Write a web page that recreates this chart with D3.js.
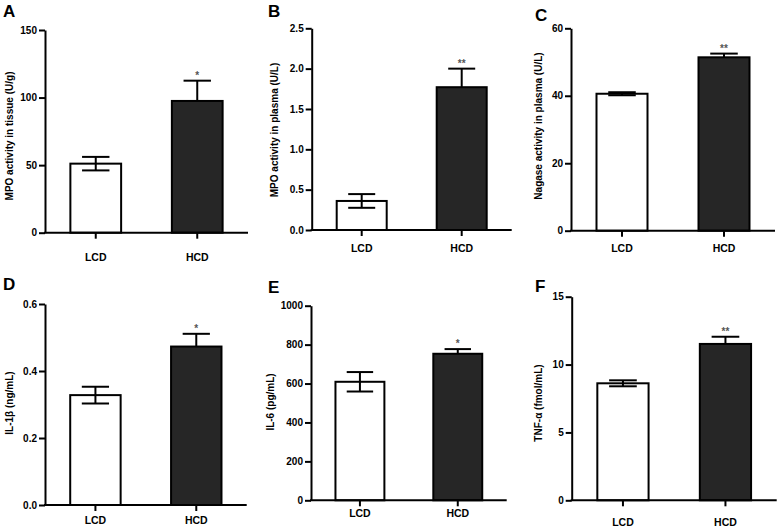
<!DOCTYPE html>
<html>
<head>
<meta charset="utf-8">
<script src="https://cdn.jsdelivr.net/npm/d3@7"></script>
<style>
  html, body { margin: 0; padding: 0; background: #fff; }
  svg { display: block; }
  text { font-family: "Liberation Sans", Arial, sans-serif; font-weight: bold; }
</style>
</head>
<body>
<svg id="chart" width="778" height="529"></svg>
<script>
// ---- data ----
const categories = ["LCD", "HCD"];
const panelLetters = ["A", "B", "C", "D", "E", "F"];
const yLabels = [
  "MPO activity in tissue (U/g)",
  "MPO activity in plasma (U/L)",
  "Nagase activity in plasma (U/L)",
  "IL-1β  (ng/mL)",
  "IL-6 (pg/mL)",
  "TNF-α  (fmol/mL)"
];
const meansA = [51.1, 97.5];   const semA = [5.0, 15.0];
const meansB = [0.36, 1.77];   const semB = [0.085, 0.23];
const meansC = [40.6, 51.4];   const semC = [0.45, 1.1];
const meansD = [0.328, 0.473]; const semD = [0.025, 0.038];
const meansE = [609, 753];     const semE = [50, 24];
const meansF = [8.62, 11.52];  const semF = [0.22, 0.53];
const significance = [["", "*"], ["", "**"], ["", "**"], ["", "*"], ["", "*"], ["", "**"]];
const yTicksA = [0, 50, 100, 150];
const yTicksB = [0.0, 0.5, 1.0, 1.5, 2.0, 2.5];
const yTicksC = [0, 20, 40, 60];
const yTicksD = [0.0, 0.2, 0.4, 0.6];
const yTicksE = [0, 200, 400, 600, 800, 1000];
const yTicksF = [0, 5, 10, 15];
const tickFormats = ["d", ".1f", "d", ".1f", "d", "d"];

// ---- layout (positions only) ----
const layout = [
  { x0: 45,    x1: 248,   yTop: 30,    yBot: 232.7, lx: 3,   ly: 17,  labX: 9,   labY: 136, catY: 261 },
  { x0: 311.7, x1: 511.7, yTop: 28.3,  yBot: 230,   lx: 268, ly: 17,  labX: 274, labY: 130, catY: 252 },
  { x0: 571,   x1: 775,   yTop: 28.3,  yBot: 230.7, lx: 535, ly: 21,  labX: 538, labY: 126, catY: 252 },
  { x0: 45,    x1: 246.7, yTop: 304,   yBot: 505,   lx: 3,   ly: 290, labX: 9,   labY: 403, catY: 524 },
  { x0: 311,   x1: 506.7, yTop: 305.7, yBot: 500.3, lx: 268, ly: 293, labX: 270, labY: 402, catY: 517 },
  { x0: 571.7, x1: 776.7, yTop: 296.7, yBot: 500.3, lx: 535, ly: 292, labX: 538, labY: 403, catY: 526 }
];

const allMeans = [meansA, meansB, meansC, meansD, meansE, meansF];
const allSem = [semA, semB, semC, semD, semE, semF];
const allTicks = [yTicksA, yTicksB, yTicksC, yTicksD, yTicksE, yTicksF];
const barFills = ["#ffffff", "#262626"];

const svg = d3.select("#chart");

layout.forEach((L, i) => {
  const g = svg.append("g");
  const ticks = allTicks[i];
  const y = d3.scaleLinear()
    .domain([ticks[0], ticks[ticks.length - 1]])
    .range([L.yBot, L.yTop]);
  const x = d3.scaleBand()
    .domain(categories)
    .range([L.x0, L.x1])
    .paddingInner(0.5)
    .paddingOuter(0.25)
    .align(0.5);

  const data = categories.map((c, k) => ({ c, m: allMeans[i][k], s: allSem[i][k], sig: significance[i][k], k }));

  // bars
  g.selectAll("rect.bar").data(data).enter().append("rect")
    .attr("x", d => x(d.c))
    .attr("y", d => y(d.m))
    .attr("width", x.bandwidth())
    .attr("height", d => y(ticks[0]) - y(d.m))
    .attr("fill", d => barFills[d.k])
    .attr("stroke", "#000")
    .attr("stroke-width", 2);

  // error bars
  const cap = x.bandwidth() * 0.27;
  data.forEach(d => {
    const cx = x(d.c) + x.bandwidth() / 2;
    const top = y(d.m + d.s);
    const bot = d.k === 0 ? y(d.m - d.s) : y(d.m);
    const col = "#000";
    g.append("line").attr("x1", cx).attr("x2", cx).attr("y1", top).attr("y2", bot)
      .attr("stroke", col).attr("stroke-width", 2);
    g.append("line").attr("x1", cx - cap).attr("x2", cx + cap).attr("y1", top).attr("y2", top)
      .attr("stroke", col).attr("stroke-width", 2);
    if (d.k === 0) {
      g.append("line").attr("x1", cx - cap).attr("x2", cx + cap).attr("y1", bot).attr("y2", bot)
        .attr("stroke", col).attr("stroke-width", 2);
    }
    if (d.sig) {
      g.append("text").attr("x", cx).attr("y", top - 2)
        .attr("text-anchor", "middle")
        .attr("font-size", 10).attr("font-weight", "normal")
        .attr("fill", "#555")
        .text(d.sig);
    }
  });

  // y axis
  const yAxis = d3.axisLeft(y).tickValues(ticks).tickFormat(d3.format(tickFormats[i]))
    .tickSize(6).tickSizeOuter(0).tickPadding(2);
  const ya = g.append("g").attr("transform", `translate(${L.x0},0)`).call(yAxis);
  ya.select(".domain").attr("stroke", "#000").attr("stroke-width", 2);
  ya.selectAll(".tick line").attr("stroke", "#000").attr("stroke-width", 2);
  ya.selectAll(".tick text").attr("font-size", 10).attr("fill", "#000")
    .attr("font-family", '"Liberation Sans", Arial, sans-serif').attr("font-weight", "bold");

  // x axis
  const xAxis = d3.axisBottom(x).tickSize(6).tickSizeOuter(0).tickFormat("");
  const xa = g.append("g").attr("transform", `translate(0,${L.yBot})`).call(xAxis);
  xa.select(".domain").attr("stroke", "#000").attr("stroke-width", 2)
    .attr("d", `M${L.x0 - 1},0H${L.x1}`);
  xa.selectAll(".tick line").attr("stroke", "#000").attr("stroke-width", 2);

  // category labels
  g.selectAll("text.cat").data(categories).enter().append("text")
    .attr("class", "cat")
    .attr("x", c => x(c) + x.bandwidth() / 2)
    .attr("y", L.catY)
    .attr("text-anchor", "middle")
    .attr("font-size", 10.5)
    .attr("fill", "#000")
    .text(c => c);

  // y label
  g.append("text")
    .attr("transform", `translate(${L.labX},${L.labY}) rotate(-90)`)
    .attr("text-anchor", "middle")
    .attr("dominant-baseline", "central")
    .attr("font-size", 10)
    .attr("fill", "#000")
    .text(yLabels[i]);

  // panel letter
  g.append("text")
    .attr("x", L.lx).attr("y", L.ly)
    .attr("font-size", 17)
    .attr("fill", "#000")
    .text(panelLetters[i]);
});
</script>
</body>
</html>
